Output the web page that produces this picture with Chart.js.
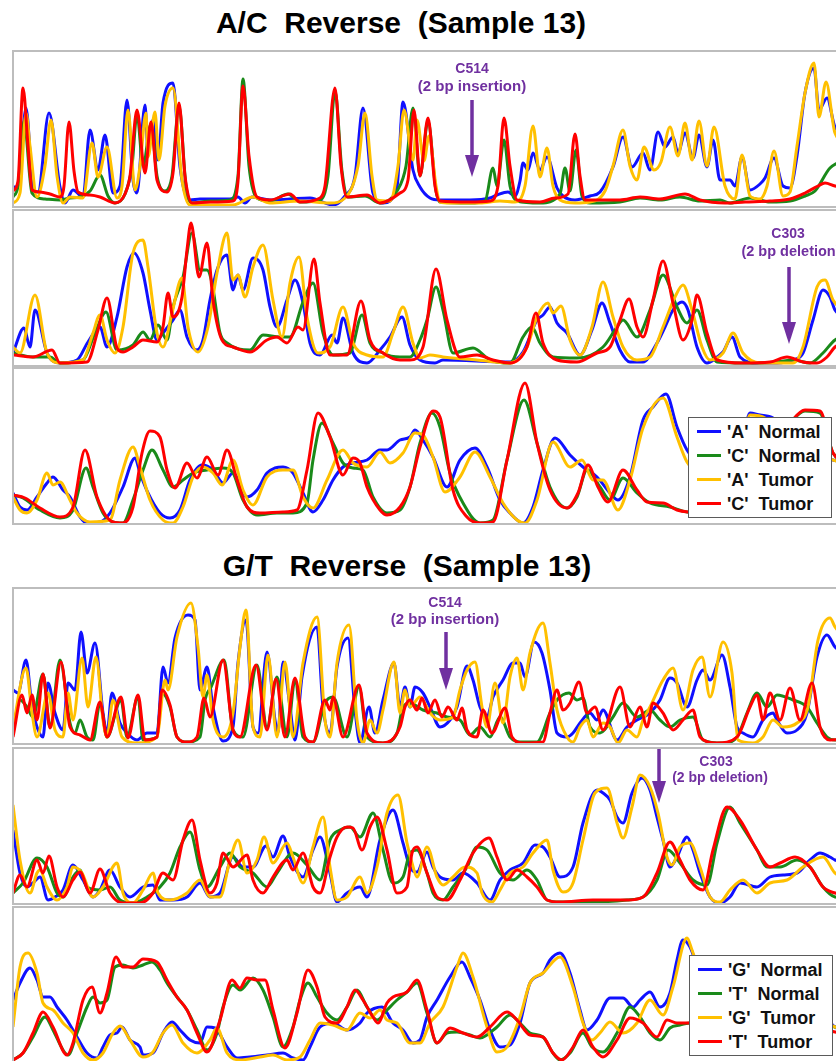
<!DOCTYPE html>
<html><head><meta charset="utf-8">
<script src="https://cdn.jsdelivr.net/npm/chart.js@4.4.1/dist/chart.umd.min.js"></script>
<style>
html,body{margin:0;padding:0;background:#fff;overflow:hidden;width:836px;height:1061px;}
body{position:relative;font-family:Arial,"Liberation Sans",sans-serif;}
.title{position:absolute;font-weight:bold;font-size:30px;white-space:pre;transform:translate(-50%,-50%);line-height:1;color:#000;}
.panel{position:absolute;left:12px;width:838px;height:154px;border:2px solid #bdbdbd;background:#fff;}
.panel canvas{display:block;}
.note{position:absolute;color:#7030a0;font-weight:bold;white-space:pre;transform:translate(-50%,-50%);line-height:1;z-index:3;}
.legend{position:absolute;background:#fff;border:1.5px solid #5a5a5a;z-index:4;box-sizing:border-box;width:144px;height:101px;}
.legend .row{position:absolute;left:0;width:140px;height:22px;}
.legend .sw{position:absolute;left:8px;top:9px;width:24px;height:3px;}
.legend .lb{position:absolute;left:38px;top:2px;font-size:18px;font-weight:bold;white-space:pre;line-height:18px;color:#111;}
</style>
</head><body>
<div id="root"></div>
<script>
// ---------- titles, series names ----------
const titleAC = "A/C  Reverse  (Sample 13)";
const titleGT = "G/T  Reverse  (Sample 13)";
const namesAC = ["'A'  Normal", "'C'  Normal", "'A'  Tumor", "'C'  Tumor"];
const namesGT = ["'G'  Normal", "'T'  Normal", "'G'  Tumor", "'T'  Tumor"];
const traceColors = ["#1010ff", "#1a8a1a", "#ffc000", "#ff0000"];

// ---------- A/C panel 1 : [scan, intensity] ----------
const ac1_A_normal = [[13,19],[18,19],[26,98],[33,19],[38,14],[49,93],[60,19],[65,3],[73,16],[83,9],[90,76],[98,36],[105,71],[113,13],[120,20],[127,106],[133,26],[137,13],[145,101],[148,56],[153,86],[158,46],[163,103],[173,123],[180,39],[190,6],[200,7],[230,7],[238,9],[245,3],[252,9],[270,6],[290,7],[310,8],[333,1],[345,10],[355,30],[363,98],[373,13],[383,3],[397,19],[403,104],[413,36],[420,19],[430,8],[440,6],[470,6],[490,8],[497,11],[508,14],[515,10],[520,25],[523,43],[528,36],[533,53],[540,36],[547,49],[557,18],[563,10],[575,6],[590,10],[600,14],[613,39],[623,69],[632,39],[643,53],[650,36],[658,74],[665,59],[673,69],[678,53],[685,73],[693,48],[699,71],[707,39],[713,66],[720,26],[730,26],[735,20],[742,49],[750,16],[760,22],[765,28],[774,48],[783,20],[790,18],[797,50],[805,113],[814,138],[819,96],[827,108],[835,79],[850,70]];
const ac1_C_normal = [[13,9],[18,20],[24,85],[32,13],[45,7],[60,6],[70,8],[80,9],[90,15],[100,31],[108,10],[115,3],[125,12],[132,40],[137,92],[143,40],[151,82],[157,30],[165,15],[172,30],[179,100],[186,20],[192,3],[210,5],[230,6],[238,30],[243,127],[249,40],[257,8],[270,5],[288,12],[300,4],[320,6],[328,30],[335,115],[342,35],[348,9],[365,10],[380,3],[397,15],[406,40],[413,98],[420,30],[428,85],[436,15],[440,4],[470,3],[485,5],[493,38],[497,20],[504,66],[510,20],[517,5],[540,3],[560,12],[565,38],[570,15],[576,56],[582,10],[590,3],[620,4],[640,8],[660,6],[680,9],[700,5],[720,6],[730,3],[750,8],[770,4],[790,5],[805,10],[815,15],[830,38],[850,48]];
const ac1_A_tumor = [[13,3],[20,13],[26,93],[30,60],[37,9],[45,40],[51,86],[57,30],[63,3],[70,9],[83,8],[92,63],[98,29],[107,59],[117,8],[122,20],[128,96],[135,16],[140,40],[146,93],[148,49],[155,94],[159,46],[165,100],[173,118],[182,26],[190,1],[200,1],[233,1],[253,9],[270,3],[300,5],[330,3],[345,8],[358,40],[365,93],[372,30],[377,6],[390,5],[398,40],[404,96],[413,46],[417,86],[424,45],[429,70],[436,20],[440,4],[450,3],[480,3],[500,5],[515,4],[525,20],[533,80],[540,29],[547,58],[553,20],[560,6],[575,3],[590,4],[605,15],[613,40],[623,76],[630,40],[637,26],[644,59],[654,36],[661,44],[670,79],[678,50],[685,83],[692,46],[699,85],[707,40],[714,79],[725,20],[735,7],[742,51],[750,10],[760,7],[767,20],[774,55],[783,10],[790,14],[797,60],[805,113],[814,143],[819,89],[826,124],[835,73],[850,60]];
const ac1_C_tumor = [[13,15],[18,25],[23,118],[28,60],[32,16],[40,14],[50,12],[60,9],[64,20],[69,84],[74,35],[78,14],[90,11],[100,9],[115,3],[125,12],[130,30],[137,96],[145,33],[151,84],[157,26],[167,14],[173,33],[179,103],[185,30],[192,3],[210,4],[233,5],[238,25],[243,120],[249,50],[257,9],[270,6],[290,12],[300,4],[320,8],[325,20],[335,118],[341,40],[347,9],[367,11],[380,3],[400,13],[408,26],[414,96],[420,30],[428,88],[435,20],[440,5],[470,4],[490,5],[498,20],[504,88],[510,40],[517,6],[540,4],[555,8],[568,12],[575,72],[580,30],[585,6],[620,6],[640,9],[660,7],[685,12],[700,6],[725,3],[745,4],[770,5],[790,7],[805,13],[818,20],[825,23],[835,20],[850,18]];

// ---------- A/C panel 2 ----------
const ac2_A_normal = [[13,12],[24,37],[30,18],[35,55],[47,12],[60,2],[77,5],[88,23],[100,38],[107,18],[117,48],[127,98],[134,112],[143,92],[150,55],[157,25],[163,32],[173,45],[180,55],[187,28],[197,15],[203,25],[210,65],[217,95],[227,110],[233,75],[238,90],[243,75],[253,107],[263,95],[270,58],[277,38],[287,65],[295,85],[303,62],[310,22],[320,10],[332,30],[337,22],[343,47],[353,12],[367,2],[380,15],[390,28],[402,48],[410,20],[420,5],[435,2],[443,5],[510,3],[523,13],[537,45],[543,50],[550,58],[557,42],[567,32],[580,10],[592,35],[602,62],[610,42],[620,15],[630,3],[643,3],[657,22],[665,38],[673,55],[682,63],[688,55],[697,18],[707,2],[717,8],[723,13],[732,28],[740,8],[757,2],[777,2],[793,5],[803,12],[813,45],[823,75],[830,68],[835,55],[850,45]];
const ac2_C_normal = [[13,12],[33,8],[50,8],[60,2],[83,5],[95,32],[106,53],[117,15],[133,20],[143,33],[150,25],[158,40],[167,25],[173,58],[183,88],[192,132],[200,95],[207,95],[212,82],[220,32],[227,22],[250,15],[263,30],[280,28],[290,28],[303,63],[313,82],[323,32],[333,10],[350,12],[362,50],[370,22],[383,12],[400,8],[410,8],[420,25],[427,45],[436,78],[443,55],[453,12],[473,17],[490,5],[510,2],[523,28],[532,38],[540,22],[553,8],[577,7],[603,18],[617,38],[623,45],[637,28],[650,55],[663,90],[677,58],[687,42],[697,55],[707,25],[717,3],[743,2],[777,3],[793,5],[810,2],[823,12],[835,25],[850,30]];
const ac2_A_tumor = [[13,18],[20,12],[35,70],[47,12],[60,2],[83,5],[93,32],[100,50],[107,25],[115,12],[123,38],[133,112],[143,125],[148,98],[157,32],[163,18],[172,52],[182,87],[188,38],[198,13],[208,38],[217,92],[227,132],[233,85],[238,90],[245,68],[253,98],[263,120],[273,65],[282,28],[290,82],[299,108],[307,48],[318,12],[330,18],[343,58],[353,22],[367,10],[383,8],[393,32],[403,58],[413,22],[420,7],[430,10],[443,8],[477,5],[510,2],[527,18],[537,48],[548,62],[553,52],[561,59],[570,25],[580,10],[592,38],[603,83],[613,48],[623,18],[637,5],[650,8],[663,38],[675,68],[683,80],[692,55],[702,18],[710,5],[723,12],[733,32],[743,12],[760,2],[793,2],[803,18],[817,78],[825,85],[833,65],[850,50]];
const ac2_C_tumor = [[13,10],[33,8],[52,15],[60,2],[87,3],[98,35],[107,67],[117,17],[123,13],[133,18],[143,25],[157,23],[163,38],[168,72],[173,48],[182,68],[187,115],[191,142],[199,88],[207,122],[213,65],[222,25],[233,18],[250,13],[267,25],[277,28],[287,22],[298,38],[303,35],[314,106],[320,62],[330,10],[347,10],[361,64],[370,25],[383,12],[400,5],[410,5],[423,18],[436,96],[447,45],[460,8],[477,10],[493,5],[510,2],[527,18],[536,52],[543,22],[557,5],[577,3],[597,12],[610,18],[620,45],[629,66],[637,38],[643,28],[653,65],[663,104],[673,62],[683,25],[692,45],[697,70],[707,32],[717,5],[743,2],[770,3],[787,8],[803,3],[817,2],[827,8],[835,18],[850,25]];

// ---------- A/C panel 3 ----------
const ac3_A_normal = [[13,30],[20,16],[27,13],[37,26],[47,40],[53,46],[63,33],[70,26],[80,6],[87,0],[100,1],[110,10],[123,36],[135,65],[140,50],[148,30],[160,10],[170,5],[180,13],[190,43],[202,58],[213,53],[223,40],[233,50],[247,26],[257,33],[267,50],[275,55],[283,56],[293,50],[303,30],[313,11],[323,23],[333,43],[343,56],[353,60],[367,63],[380,73],[387,73],[400,83],[410,86],[415,93],[423,83],[433,66],[447,36],[460,63],[475,75],[487,56],[500,23],[510,10],[523,0],[533,16],[543,53],[555,85],[570,68],[583,56],[597,46],[610,30],[618,23],[630,46],[643,103],[653,116],[666,129],[677,96],[687,73],[700,60],[740,70],[750,110],[760,108],[773,105],[790,80],[810,70],[833,63],[850,60]];
const ac3_C_normal = [[13,28],[23,25],[40,13],[60,5],[73,13],[86,55],[93,36],[103,10],[113,1],[123,0],[133,23],[143,53],[152,73],[163,53],[173,36],[183,43],[193,50],[207,53],[223,55],[233,50],[243,23],[257,8],[277,10],[293,10],[307,20],[313,63],[322,100],[333,80],[343,60],[353,55],[363,53],[373,26],[387,10],[400,13],[410,36],[420,80],[432,110],[440,96],[450,50],[463,20],[480,0],[493,3],[507,63],[524,123],[537,80],[550,36],[567,15],[577,26],[587,53],[600,36],[610,23],[623,45],[637,30],[650,20],[670,16],[687,11],[720,10],[760,60],[790,100],[805,112],[820,110],[833,70],[850,60]];
const ac3_A_tumor = [[13,26],[20,13],[27,10],[37,23],[47,50],[53,38],[60,41],[70,23],[77,10],[90,1],[110,3],[120,43],[133,76],[140,56],[150,23],[163,3],[173,0],[183,16],[193,46],[203,56],[213,50],[222,38],[233,63],[243,33],[253,18],[267,46],[283,53],[293,53],[303,26],[313,15],[327,43],[343,73],[353,60],[367,56],[380,71],[390,60],[403,70],[415,90],[423,88],[433,66],[445,31],[460,46],[475,71],[490,46],[503,20],[517,3],[525,0],[537,23],[553,81],[570,56],[582,63],[593,43],[603,43],[618,13],[630,43],[643,95],[663,125],[677,86],[687,61],[700,50],[740,65],[750,108],[765,105],[780,90],[810,70],[833,63],[850,58]];
const ac3_C_tumor = [[13,28],[25,25],[40,15],[60,6],[73,16],[85,73],[97,26],[113,1],[123,0],[133,16],[142,70],[150,92],[160,86],[167,53],[175,35],[187,60],[197,45],[207,66],[218,48],[227,73],[237,43],[247,16],[260,10],[283,11],[297,13],[307,53],[318,110],[330,86],[343,48],[353,65],[360,60],[367,36],[380,13],[387,8],[400,16],[410,36],[420,76],[433,112],[440,106],[453,33],[467,6],[480,0],[493,1],[507,63],[525,140],[537,80],[550,33],[567,15],[578,30],[588,58],[598,36],[608,21],[623,53],[637,33],[647,21],[663,20],[677,13],[688,11],[720,10],[760,60],[790,100],[805,113],[820,112],[833,70],[850,60]];

// ---------- G/T panel 1 ----------
const gt1_G_normal = [[13,53],[18,50],[26,83],[32,36],[37,16],[43,6],[48,60],[55,30],[63,13],[68,60],[75,53],[81,111],[87,70],[95,100],[103,30],[107,10],[112,50],[120,20],[127,10],[137,3],[147,10],[157,10],[163,76],[168,60],[175,105],[188,128],[195,123],[200,53],[207,76],[213,36],[223,2],[233,16],[238,80],[246,123],[253,16],[258,10],[267,91],[275,23],[278,10],[283,81],[290,36],[295,3],[302,66],[317,116],[323,36],[330,10],[337,76],[348,105],[355,33],[360,0],[369,36],[375,10],[383,43],[394,80],[400,36],[405,56],[410,36],[415,56],[423,50],[430,36],[440,16],[450,23],[457,36],[467,77],[473,63],[480,36],[487,26],[493,46],[503,63],[513,80],[520,80],[525,66],[534,101],[542,90],[550,53],[557,10],[567,6],[573,10],[580,20],[590,30],[597,23],[603,33],[617,3],[627,16],[637,23],[650,30],[660,43],[670,65],[677,60],[687,36],[697,63],[703,73],[710,63],[722,88],[730,56],[737,16],[743,10],[753,6],[763,23],[773,30],[777,23],[787,10],[797,13],[807,30],[817,86],[827,108],[835,96],[850,85]];
const gt1_T_normal = [[13,10],[20,43],[27,36],[33,26],[43,69],[50,16],[60,83],[70,20],[75,10],[80,23],[87,6],[93,3],[100,40],[107,6],[121,43],[127,6],[138,46],[143,3],[157,6],[162,50],[170,36],[177,6],[187,1],[200,6],[205,43],[211,56],[224,83],[233,13],[243,6],[257,78],[267,16],[277,66],[287,6],[295,63],[303,6],[313,1],[325,40],[333,46],[347,6],[359,56],[367,6],[383,0],[397,10],[403,36],[410,40],[423,33],[437,30],[447,26],[460,23],[470,8],[480,16],[490,6],[500,26],[510,6],[520,1],[537,1],[550,30],[557,43],[569,50],[577,43],[583,45],[590,16],[600,10],[613,26],[623,40],[637,26],[650,33],[660,23],[670,16],[680,23],[693,26],[703,3],[723,0],[737,6],[747,30],[757,50],[767,36],[777,48],[793,43],[807,36],[817,20],[827,6],[835,3],[850,3]];
const gt1_G_tumor = [[13,16],[26,75],[32,30],[37,6],[48,50],[55,13],[63,6],[68,50],[73,23],[82,85],[88,36],[96,86],[103,23],[107,6],[113,43],[122,6],[137,0],[157,6],[165,63],[168,53],[177,106],[191,140],[198,96],[203,46],[207,68],[213,23],[223,6],[233,30],[240,96],[246,133],[253,16],[260,6],[268,88],[277,6],[285,81],[293,6],[303,80],[317,126],[325,23],[330,6],[337,80],[349,118],[357,23],[363,0],[370,23],[377,10],[383,33],[394,81],[400,30],[405,53],[410,36],[420,46],[430,30],[440,23],[453,26],[460,53],[467,73],[475,81],[482,36],[487,16],[495,60],[503,20],[510,66],[517,85],[523,53],[530,90],[543,120],[550,80],[557,33],[567,6],[573,1],[580,16],[587,23],[593,6],[603,20],[610,16],[618,0],[627,13],[637,6],[643,23],[650,36],[663,63],[673,75],[683,33],[693,73],[702,86],[710,46],[723,101],[732,70],[738,3],[753,0],[763,6],[773,23],[783,16],[797,20],[808,36],[818,103],[830,125],[835,116],[850,100]];
const gt1_T_tumor = [[13,6],[22,48],[27,30],[32,48],[37,23],[43,69],[50,15],[61,81],[70,16],[80,8],[90,3],[100,41],[107,6],[121,46],[128,5],[138,48],[145,3],[157,6],[162,53],[170,38],[177,6],[187,1],[197,6],[204,45],[210,26],[223,83],[233,13],[240,6],[256,78],[267,13],[276,64],[285,6],[295,65],[305,6],[313,1],[325,43],[330,33],[333,46],[343,6],[359,58],[367,10],[383,0],[400,16],[405,36],[410,43],[417,33],[422,45],[428,30],[435,43],[442,26],[448,36],[457,23],[462,35],[467,13],[477,6],[483,33],[492,10],[505,35],[512,6],[523,0],[543,1],[550,30],[557,53],[563,33],[570,40],[579,61],[587,30],[595,36],[603,13],[620,56],[630,16],[640,36],[647,16],[653,40],[663,30],[673,13],[683,23],[693,33],[700,6],[717,0],[737,6],[750,36],[757,48],[763,23],[770,50],[780,23],[790,55],[800,23],[812,60],[820,16],[830,3],[850,5]];

// ---------- G/T panel 2 ----------
const gt2_G_normal = [[13,73],[20,30],[27,16],[33,20],[40,26],[48,3],[55,6],[63,13],[73,38],[83,23],[93,6],[100,13],[110,33],[120,16],[130,6],[143,16],[153,18],[160,3],[173,3],[187,6],[200,20],[210,6],[220,10],[233,46],[243,36],[253,36],[266,57],[273,46],[283,67],[290,46],[303,26],[313,53],[320,66],[330,30],[337,1],[347,10],[360,16],[367,6],[380,63],[393,93],[403,60],[410,36],[417,31],[427,51],[433,36],[440,26],[453,23],[463,30],[477,20],[490,3],[500,23],[510,33],[523,40],[535,58],[543,56],[550,46],[560,26],[573,36],[583,80],[597,113],[603,110],[610,103],[617,86],[623,80],[632,110],[642,125],[650,113],[657,86],[663,63],[670,36],[677,46],[687,66],[693,53],[700,30],[710,6],[720,0],[730,6],[740,20],[757,16],[770,26],[783,28],[797,30],[810,43],[820,50],[830,46],[835,43],[850,40]];
const gt2_T_normal = [[13,10],[23,20],[37,45],[47,36],[57,10],[63,6],[73,26],[80,33],[87,16],[100,13],[110,16],[120,3],[133,0],[147,6],[160,16],[170,30],[180,56],[190,71],[200,33],[207,16],[220,36],[230,50],[240,36],[253,30],[267,16],[277,30],[293,50],[307,38],[320,23],[330,63],[340,73],[350,76],[360,66],[373,90],[383,53],[393,20],[403,26],[410,50],[417,53],[427,30],[433,10],[443,3],[453,16],[467,36],[477,56],[487,53],[500,30],[513,23],[527,33],[537,23],[547,3],[560,1],[593,1],[627,3],[643,6],[657,23],[668,53],[680,40],[693,23],[707,18],[717,60],[730,96],[740,80],[757,53],[767,36],[780,36],[797,43],[810,36],[823,16],[835,6],[850,5]];
const gt2_G_tumor = [[13,98],[20,43],[30,10],[37,30],[40,33],[47,16],[57,3],[67,16],[73,36],[82,30],[93,6],[103,16],[117,40],[123,10],[133,0],[143,13],[153,30],[158,10],[170,3],[187,10],[200,23],[210,6],[220,6],[230,43],[238,63],[247,30],[257,43],[264,66],[273,40],[287,60],[293,46],[303,20],[313,56],[323,86],[330,36],[337,3],[347,6],[360,26],[367,10],[377,36],[387,90],[398,108],[407,60],[412,40],[417,26],[427,56],[437,26],[443,18],[453,26],[465,36],[477,30],[482,10],[492,1],[500,13],[510,30],[523,36],[533,50],[547,63],[553,33],[563,11],[573,20],[583,63],[595,110],[607,115],[617,80],[623,65],[632,96],[640,128],[650,116],[658,90],[667,46],[672,38],[680,56],[690,60],[700,36],[710,6],[720,1],[730,13],[743,23],[757,10],[770,20],[787,23],[803,36],[823,46],[835,30],[850,25]];
const gt2_T_tumor = [[13,10],[20,28],[27,16],[37,43],[43,30],[49,47],[57,16],[63,6],[73,23],[80,31],[90,10],[100,34],[110,10],[123,0],[140,0],[153,10],[163,30],[173,23],[183,63],[192,83],[200,43],[210,10],[217,20],[223,50],[233,36],[247,48],[253,23],[263,10],[273,26],[287,43],[293,33],[303,50],[313,16],[320,10],[330,46],[337,66],[347,76],[353,75],[362,53],[370,76],[377,86],[387,53],[397,10],[407,16],[412,50],[417,56],[427,30],[437,6],[447,3],[460,23],[473,50],[489,65],[497,46],[507,23],[517,33],[527,26],[537,16],[547,3],[560,1],[593,3],[627,3],[643,6],[657,30],[670,61],[680,43],[690,23],[703,13],[713,53],[727,96],[740,83],[757,53],[770,36],[780,40],[795,46],[810,36],[823,16],[835,10],[850,8]];

// ---------- G/T panel 3 ----------
const gt3_G_normal = [[13,62],[20,79],[30,94],[37,82],[43,65],[50,65],[57,55],[67,42],[77,25],[87,9],[97,4],[103,15],[110,27],[117,29],[122,35],[130,22],[140,15],[143,7],[153,9],[163,29],[172,40],[180,32],[190,22],[200,19],[207,35],[215,34],[227,15],[237,4],[250,5],[267,7],[283,9],[293,4],[303,2],[310,15],[320,35],[333,39],[347,32],[360,39],[367,49],[382,55],[393,39],[403,32],[413,19],[420,22],[427,45],[437,62],[450,85],[462,100],[470,85],[480,62],[490,32],[500,15],[510,17],[520,39],[530,79],[543,89],[550,102],[560,109],[570,89],[580,52],[587,32],[597,42],[610,64],[623,64],[633,55],[640,62],[650,70],[660,55],[670,69],[677,102],[683,122],[690,115],[700,90],[760,70],[820,50],[835,35],[850,30]];
const gt3_T_normal = [[13,2],[23,9],[33,25],[45,45],[53,32],[63,12],[68,7],[77,29],[87,55],[93,65],[100,59],[107,62],[115,95],[123,97],[133,94],[143,97],[152,100],[160,92],[167,79],[177,65],[187,52],[197,32],[207,12],[217,29],[223,55],[233,77],[240,72],[253,84],[263,72],[273,45],[283,15],[293,35],[300,62],[308,79],[317,65],[327,49],[337,42],[347,55],[357,72],[367,55],[377,42],[387,52],[397,62],[407,70],[417,79],[427,49],[437,19],[447,29],[457,30],[470,27],[480,24],[497,35],[510,47],[520,39],[530,29],[543,25],[553,9],[560,2],[570,9],[583,29],[592,15],[603,10],[617,29],[630,55],[640,45],[650,29],[660,22],[670,34],[680,37],[690,39],[720,40],[780,45],[835,35],[850,32]];
const gt3_G_tumor = [[13,35],[20,95],[28,109],[37,89],[43,59],[53,52],[63,39],[73,29],[83,9],[93,2],[103,9],[113,29],[120,36],[130,22],[143,5],[153,10],[163,29],[172,37],[183,19],[197,9],[210,22],[217,34],[227,9],[240,2],[260,5],[273,7],[287,2],[300,5],[310,22],[320,39],[333,37],[347,32],[360,49],[370,44],[380,52],[387,42],[397,39],[410,19],[420,19],[430,39],[443,55],[457,95],[463,109],[473,85],[487,35],[497,10],[507,15],[520,45],[530,79],[543,89],[560,105],[573,75],[583,39],[592,22],[600,29],[610,40],[623,29],[637,39],[650,62],[663,47],[673,75],[687,124],[692,112],[700,90],[760,60],[820,45],[835,35],[850,32]];
const gt3_T_tumor = [[13,2],[23,9],[33,29],[43,50],[53,35],[67,7],[73,19],[83,62],[92,75],[100,49],[107,69],[116,105],[123,95],[133,95],[143,103],[157,100],[167,82],[177,65],[187,52],[197,29],[207,10],[220,42],[232,82],[240,74],[247,84],[257,82],[265,82],[273,52],[285,14],[297,49],[308,92],[317,75],[325,45],[337,39],[347,55],[355,72],[363,62],[373,45],[378,39],[387,59],[393,65],[407,70],[417,82],[427,52],[437,19],[450,34],[463,29],[477,25],[490,35],[507,50],[517,42],[530,27],[543,25],[553,9],[562,2],[573,15],[583,32],[593,15],[603,5],[617,22],[630,44],[643,39],[657,25],[667,42],[677,39],[687,39],[720,40],[780,45],[835,30],[850,28]];

// ---------- mutation markers: [scan, arrow top, arrow tip] ----------
const acInsertion = [472, 106, 29];
const acDeletion = [789, 98, 21];
const gtInsertion = [446, 111, 53];
const gtDeletion = [659, 154, 100];
const insertionLabel = ["C514", "(2 bp insertion)"];
const deletionLabel = ["C303", "(2 bp deletion)"];

// ---------- layout ----------
const root = document.getElementById('root');
function addDiv(cls, css, text){ const d=document.createElement('div'); d.className=cls; d.style.cssText=css; if(text!==undefined) d.textContent=text; root.appendChild(d); return d; }

const arrowPlugin = {
  id:'arrowNote',
  afterDatasetsDraw(chart, args, opts){
    if(!opts || !opts.mark) return;
    const [sx, top, tip] = opts.mark;
    const xs=chart.scales.x, ys=chart.scales.y, ctx=chart.ctx;
    const px=Math.round(xs.getPixelForValue(sx));
    const pTop=ys.getPixelForValue(top), pTip=ys.getPixelForValue(tip);
    const hl=22, hw=14;
    ctx.save();
    ctx.strokeStyle=opts.color; ctx.fillStyle=opts.color; ctx.lineWidth=3.5;
    ctx.beginPath(); ctx.moveTo(px,pTop); ctx.lineTo(px,pTip-hl+2); ctx.stroke();
    ctx.beginPath(); ctx.moveTo(px-hw/2,pTip-hl); ctx.lineTo(px+hw/2,pTip-hl); ctx.lineTo(px,pTip); ctx.closePath(); ctx.fill();
    ctx.restore();
  }
};

function makePanel(top, series, names, mark){
  const box = addDiv('panel', 'top:'+top+'px;');
  const cv = document.createElement('canvas'); cv.width=838; cv.height=154; box.appendChild(cv);
  new Chart(cv, {
    type:'line',
    data:{datasets: series.map((s,i)=>({
      label:names[i], data:s.map(p=>({x:p[0],y:p[1]})),
      borderColor:traceColors[i], backgroundColor:traceColors[i], borderWidth:3,
      pointRadius:0, cubicInterpolationMode:'monotone', order:4-i, clip:false, fill:false
    }))},
    options:{
      responsive:false, animation:false, devicePixelRatio:1, events:[],
      layout:{padding:0},
      plugins:{legend:{display:false}, tooltip:{enabled:false}, arrowNote:{mark:mark, color:'#7030a0'}},
      scales:{x:{type:'linear',display:false,min:14,max:852}, y:{display:false,min:0,max:154}}
    },
    plugins:[arrowPlugin]
  });
}

function makeLegend(left, top, names){
  const lg = addDiv('legend', 'left:'+left+'px;top:'+top+'px;');
  names.forEach((n,i)=>{
    const r=document.createElement('div'); r.className='row'; r.style.top=(3+i*24)+'px';
    const sw=document.createElement('div'); sw.className='sw'; sw.style.background=traceColors[i];
    const lb=document.createElement('div'); lb.className='lb'; lb.textContent=n;
    r.appendChild(sw); r.appendChild(lb); lg.appendChild(r);
  });
}

function note(cx, cy, size, text){ addDiv('note', 'left:'+cx+'px;top:'+cy+'px;font-size:'+size+'px;', text); }

// A/C block
addDiv('title', 'left:401px;top:23px;', titleAC);
makePanel(50, [ac1_A_normal, ac1_C_normal, ac1_A_tumor, ac1_C_tumor], namesAC, acInsertion);
makePanel(209, [ac2_A_normal, ac2_C_normal, ac2_A_tumor, ac2_C_tumor], namesAC, acDeletion);
makePanel(367, [ac3_A_normal, ac3_C_normal, ac3_A_tumor, ac3_C_tumor], namesAC, null);
makeLegend(688, 417, namesAC);
note(472, 68, 14, insertionLabel[0]); note(472, 85, 15, insertionLabel[1]);
note(788, 233, 14, deletionLabel[0]); note(791, 251, 14.5, deletionLabel[1]);

// G/T block
addDiv('title', 'left:407px;top:566px;', titleGT);
makePanel(587, [gt1_G_normal, gt1_T_normal, gt1_G_tumor, gt1_T_tumor], namesGT, gtInsertion);
makePanel(747, [gt2_G_normal, gt2_T_normal, gt2_G_tumor, gt2_T_tumor], namesGT, gtDeletion);
makePanel(906, [gt3_G_normal, gt3_T_normal, gt3_G_tumor, gt3_T_tumor], namesGT, null);
makeLegend(689, 955, namesGT);
note(445, 602, 14, insertionLabel[0]); note(445, 618, 15, insertionLabel[1]);
note(716, 761, 14, deletionLabel[0]); note(720, 777, 14, deletionLabel[1]);
</script>
</body></html>
